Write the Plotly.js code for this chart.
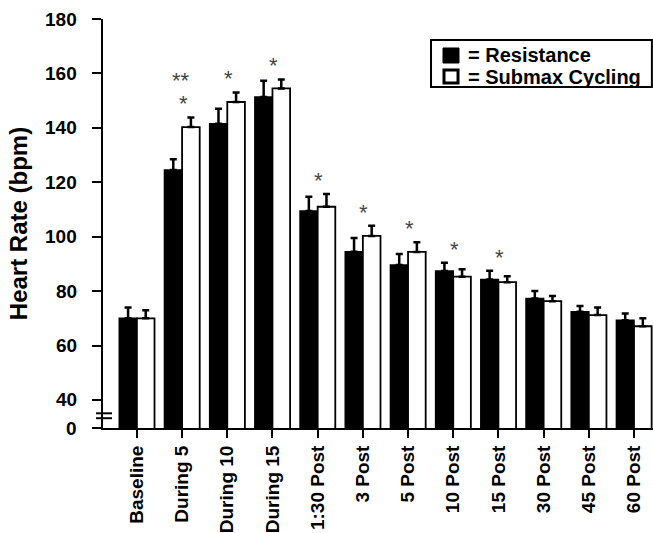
<!DOCTYPE html>
<html>
<head>
<meta charset="utf-8">
<script src="https://cdn.plot.ly/plotly-3.0.1.min.js"></script>
<style>
  html, body { margin: 0; padding: 0; background: #fff; }
  #chart { width: 653px; height: 533px; }
</style>
</head>
<body>
<div id="chart"></div>
<script>
// ---- data ----
const categories = ["Baseline", "During 5", "During 10", "During 15", "1:30 Post", "3 Post",
                    "5 Post", "10 Post", "15 Post", "30 Post", "45 Post", "60 Post"];
const resistance    = [70, 124.5, 141.5, 151.3, 109.4, 94.5, 89.6, 87.4, 84.3, 77.3, 72.4, 69.3];
const resistanceErr = [4, 4, 5.5, 6, 5.3, 5, 4, 3, 3.2, 2.7, 2.1, 2.5];
const submax        = [70, 140.3, 149.5, 154.5, 111, 100.3, 94.4, 85.3, 83.3, 76.3, 71.2, 67.1];
const submaxErr     = [3, 3.5, 3.5, 3.3, 4.7, 3.7, 3.6, 2.7, 2.2, 1.9, 2.8, 2.9];
const sigLower = ["", "*", "*", "*", "*", "*", "*", "*", "*", "", "", ""];
const sigUpper = ["", "**", "", "", "", "", "", "", "", "", "", ""];
const seriesNames = ["= Resistance", "= Submax Cycling"];
const yTickLabels = ["0", "40", "60", "80", "100", "120", "140", "160", "180"];
const yTickNums   = [0, 40, 60, 80, 100, 120, 140, 160, 180];

// ---- layout constants (broken axis: "0" drawn just below 40) ----
const AXIS_FLOOR = 29.7;
const yTickVals = yTickNums.map(v => v === 0 ? AXIS_FLOOR : v);
const FONT = '"Liberation Sans", Arial, Helvetica, sans-serif';

const zeros = categories.map(() => 0);
const traces = [
  {
    type: 'bar', name: seriesNames[0], x: categories, y: resistance,
    marker: { color: '#000', line: { color: '#000', width: 1.5 } },
    error_y: { type: 'data', array: resistanceErr, arrayminus: zeros, symmetric: false,
               color: '#000', thickness: 2.5, width: 3.5 }
  },
  {
    type: 'bar', name: seriesNames[1], x: categories, y: submax,
    marker: { color: '#fff', line: { color: '#000', width: 1.8 } },
    error_y: { type: 'data', array: submaxErr, arrayminus: zeros, symmetric: false,
               color: '#000', thickness: 2.5, width: 3.5 }
  }
];

const annotations = [];
categories.forEach((c, i) => {
  const top = Math.max(resistance[i] + resistanceErr[i], submax[i] + submaxErr[i]);
  if (sigLower[i]) {
    annotations.push({ x: c, y: top + 5, xref: 'x', yref: 'y', text: sigLower[i],
      showarrow: false, yanchor: 'middle', xshift: 1,
      font: { family: FONT, size: 22, color: '#444' } });
  }
  if (sigUpper[i]) {
    annotations.push({ x: c, y: top + 13.5, xref: 'x', yref: 'y', text: sigUpper[i],
      showarrow: false, yanchor: 'middle', xshift: -1,
      font: { family: FONT, size: 22, color: '#444' } });
  }
});

// y tick labels placed on the y scale, with the wider gap of the reference
yTickVals.forEach((v, i) => {
  annotations.push({ xref: 'paper', yref: 'y', x: -0.0436, y: v, xanchor: 'right',
    yanchor: 'middle', text: yTickLabels[i], showarrow: false,
    font: { family: FONT, size: 19, weight: 'bold', color: '#000' } });
});

// custom legend (box + keys + labels), in paper coordinates
const legendFont = { family: FONT, size: 20, weight: 'bold', color: '#000' };
annotations.push(
  { xref: 'paper', yref: 'paper', x: 0.66, y: 0.911, xanchor: 'left', yanchor: 'middle',
    text: seriesNames[0], showarrow: false, font: legendFont },
  { xref: 'paper', yref: 'paper', x: 0.66, y: 0.859, xanchor: 'left', yanchor: 'middle',
    text: seriesNames[1], showarrow: false, font: legendFont }
);

const shapes = [35.1, 33.3].map(yv => ({
  type: 'line', xref: 'paper', yref: 'y', x0: -0.0127, x1: 0.0164, y0: yv, y1: yv,
  line: { color: '#000', width: 2 }, layer: 'above'
}));
shapes.push(
  { type: 'rect', xref: 'paper', yref: 'paper', x0: 0.5964, x1: 0.998, y0: 0.8337, y1: 0.9487,
    fillcolor: '#fff', line: { color: '#000', width: 2 }, layer: 'above' },
  { type: 'rect', xref: 'paper', yref: 'paper', x0: 0.6182, x1: 0.6473, y0: 0.8924, y1: 0.9291,
    fillcolor: '#000', line: { color: '#000', width: 1 }, layer: 'above' },
  { type: 'rect', xref: 'paper', yref: 'paper', x0: 0.6200, x1: 0.6455, y0: 0.8435, y1: 0.8753,
    fillcolor: '#fff', line: { color: '#000', width: 3 }, layer: 'above' }
);

const layout = {
  width: 653, height: 533,
  margin: { l: 103, r: 0, t: 19, b: 105, pad: 0 },
  paper_bgcolor: '#fff', plot_bgcolor: '#fff',
  font: { family: FONT, color: '#000' },
  showlegend: false,
  barmode: 'group', bargap: 0.22, bargroupgap: 0,
  xaxis: {
    type: 'category', range: [-0.75, 11.42],
    showline: true, linecolor: '#000', linewidth: 2,
    ticks: 'outside', ticklen: 8, tickwidth: 2, tickcolor: '#000',
    tickangle: -90, tickfont: { family: FONT, size: 19, weight: 'bold', color: '#000' },
    showgrid: false, zeroline: false, fixedrange: true
  },
  yaxis: {
    range: [AXIS_FLOOR, 180],
    tickvals: yTickVals, ticktext: yTickLabels, showticklabels: false,
    showline: true, linecolor: '#000', linewidth: 2,
    ticks: 'outside', ticklen: 9, tickwidth: 2, tickcolor: '#000',
    showgrid: false, zeroline: false, fixedrange: true,
    title: { text: 'Heart Rate (bpm)', standoff: 58,
             font: { family: FONT, size: 24, weight: 'bold', color: '#000' } }
  },
  annotations: annotations,
  shapes: shapes
};

Plotly.newPlot('chart', traces, layout, { displayModeBar: false, staticPlot: true });
</script>
</body>
</html>
